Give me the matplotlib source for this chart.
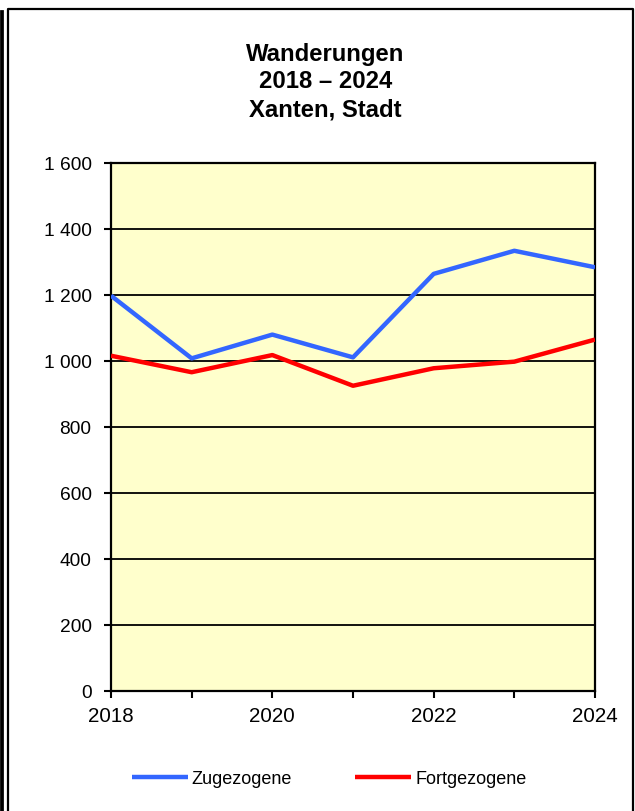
import matplotlib
matplotlib.use('Agg')
import matplotlib.pyplot as plt
from matplotlib.lines import Line2D
from matplotlib.ticker import FuncFormatter

plt.rcParams['font.family'] = ['Liberation Sans', 'DejaVu Sans']

years = [2018, 2019, 2020, 2021, 2022, 2023, 2024]
zugezogene = [1198, 1008, 1080, 1011, 1264, 1334, 1284]
fortgezogene = [1016, 966, 1018, 925, 978, 998, 1065]
y_ticks = [0, 200, 400, 600, 800, 1000, 1200, 1400, 1600]
x_labels = [2018, 2020, 2022, 2024]

W, H = 635, 812
fig = plt.figure(figsize=(W / 100, H / 100), dpi=100)

def fx(px):
    return px / W

def fy(py):
    return 1 - py / H

# outer frame
fig.add_artist(Line2D([fx(1.8), fx(1.8)], [fy(13), 0], color='black', lw=2.7, transform=fig.transFigure))
fig.add_artist(Line2D([fx(8), fx(8), fx(633), fx(633)], [0, fy(10), fy(10), 0],
                      color='black', lw=1.6, transform=fig.transFigure))

ax = fig.add_axes([fx(111), fy(692), fx(595) - fx(111), fy(164) - fy(692)])
ax.set_facecolor('#FFFFCC')

ax.plot(years, zugezogene, color='#3366FF', lw=3.2, solid_capstyle='butt', label='Zugezogene', zorder=3)
ax.plot(years, fortgezogene, color='#FF0000', lw=3.2, solid_capstyle='butt', label='Fortgezogene', zorder=3)

ax.set_xlim(2018, 2024)
ax.set_ylim(0, 1600)
ax.set_yticks(y_ticks)
ax.yaxis.set_major_formatter(FuncFormatter(lambda v, p: f'{int(v):,}'.replace(',', ' ')))
ax.set_xticks(years)
ax.set_xticklabels([str(y) if y in x_labels else '' for y in years])
ax.grid(axis='y', color='black', lw=1.3, zorder=1)
for s in ax.spines.values():
    s.set_linewidth(1.6)
ax.tick_params(axis='both', direction='out', length=5, width=1.5, color='black')
ax.tick_params(axis='y', labelsize=13.8, pad=9)
ax.tick_params(axis='x', labelsize=14.8, pad=6)

fig.text(fx(325.5), fy(82), 'Wanderungen\n2018 – 2024\nXanten, Stadt', ha='center', va='center',
         fontsize=17.2, fontweight='bold', linespacing=1.25)

ax.legend(loc='center', bbox_to_anchor=(fx(329), fy(780)), bbox_transform=fig.transFigure,
          ncol=2, frameon=False, fontsize=13, handlelength=3.1, handletextpad=0.22,
          columnspacing=3.5)

fig.savefig('out.png', dpi=100)
